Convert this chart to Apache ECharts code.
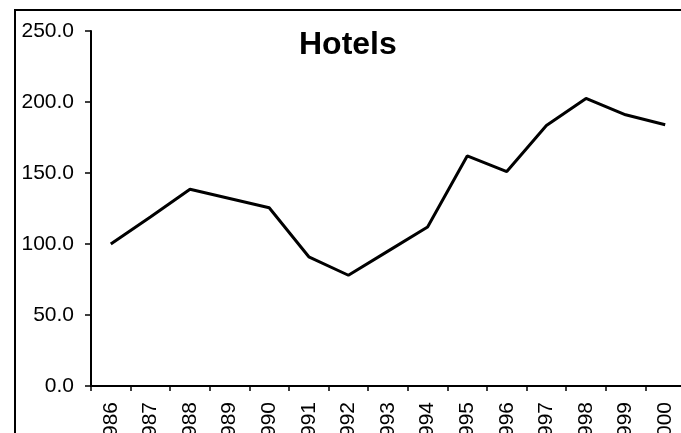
<!DOCTYPE html>
<html>
<head>
<meta charset="utf-8">
<script src="https://cdn.jsdelivr.net/npm/echarts@6/dist/echarts.min.js"></script>
<style>
    html, body { margin: 0; padding: 0; background: #fff; }
    #chart { width: 681px; height: 433px; }
</style>
</head>
<body>
<div id="chart"></div>
<script>
    // 年份
    var years = ['1986', '1987', '1988', '1989', '1990', '1991', '1992', '1993',
        '1994', '1995', '1996', '1997', '1998', '1999', '2000'];
    // 酒店指数
    var hotels = [100, 119, 138.5, 132, 125.5, 91, 78, 95, 112, 162, 151, 183.5, 202.5, 191, 184];
    var yTicks = [0, 50, 100, 150, 200, 250];

    var font = 'Liberation Sans, Arial, sans-serif';
    var myChart = echarts.init(document.getElementById('chart'));
    var option = {
        backgroundColor: '#fff',
        animation: false,
        title: {
            text: 'Hotels',
            left: 294,
            top: 24,
            textStyle: { fontFamily: font, fontSize: 32, fontWeight: 'bold', color: '#000' }
        },
        // 外框
        graphic: [{
            type: 'rect',
            shape: { x: 15, y: 10, width: 720, height: 500 },
            style: { fill: 'none', stroke: '#000', lineWidth: 2 },
            silent: true
        }],
        grid: { left: 91, top: 31, bottom: 47, right: -4, containLabel: false, outerBoundsMode: 'none' },
        xAxis: {
            type: 'category',
            data: years,
            boundaryGap: true,
            axisLine: { lineStyle: { color: '#000', width: 2 } },
            axisTick: { show: true, length: 5, lineStyle: { color: '#000', width: 1.5 } },
            axisLabel: {
                interval: 0,
                rotate: 90,
                margin: 16,
                color: '#000',
                fontFamily: font,
                fontSize: 21,
                hideOverlap: false
            }
        },
        yAxis: {
            type: 'value',
            min: yTicks[0],
            max: yTicks[yTicks.length - 1],
            interval: 50,
            splitLine: { show: false },
            axisLine: { show: true, lineStyle: { color: '#000', width: 2 } },
            axisTick: { show: true, length: 6, lineStyle: { color: '#000', width: 1.5 } },
            axisLabel: {
                margin: 17,
                color: '#000',
                fontFamily: font,
                fontSize: 21,
                formatter: function (v) { return v.toFixed(1); }
            }
        },
        series: [{
            type: 'line',
            data: hotels,
            symbol: 'none',
            lineStyle: { color: '#000', width: 3 }
        }]
    };
    myChart.setOption(option);
</script>
</body>
</html>
